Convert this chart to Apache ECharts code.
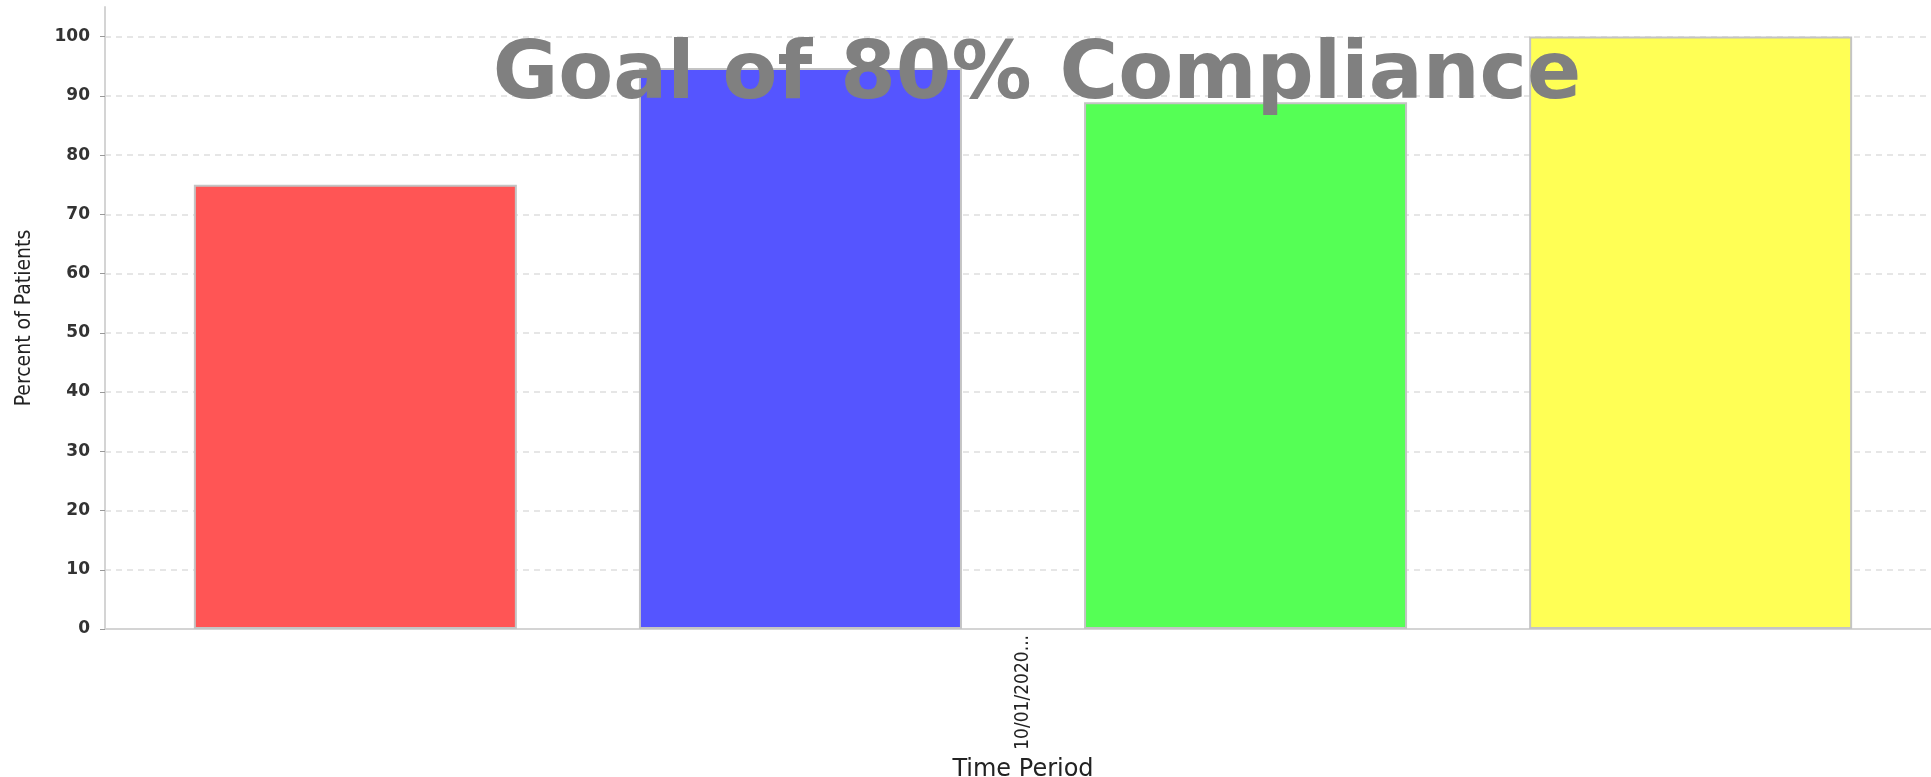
<!DOCTYPE html>
<html>
<head>
<meta charset="utf-8">
<title>Goal of 80% Compliance</title>
<script src="https://cdn.jsdelivr.net/npm/echarts@6/dist/echarts.min.js"></script>
<style>
  html, body { margin: 0; padding: 0; background: #ffffff; }
  #chart { width: 1931px; height: 777px; }
</style>
</head>
<body>
<div id="chart"></div>
<script>
// Time period shown on the category axis
const categories = ['10/01/2020...'];
// Percent of patients for each group within the period
const groupValues = [75, 94.7, 88.9, 100];
const groupColors = ['#ff5555', '#5555ff', '#55ff55', '#ffff55'];
// Value axis ticks
const yTicks = [0, 10, 20, 30, 40, 50, 60, 70, 80, 90, 100];

const titleText = 'Goal of 80% Compliance';

const chart = echarts.init(document.getElementById('chart'), null, { renderer: 'canvas' });

const series = groupValues.map((v, i) => ({
  type: 'bar',
  data: [v],
  barWidth: 323,
  barGap: '37.8%',
  itemStyle: {
    color: groupColors[i],
    borderColor: '#c4c4c4',
    borderWidth: 2
  },
  z: 2
}));

chart.setOption({
  animation: false,
  backgroundColor: '#ffffff',
  grid: {
    left: 105, right: -10, top: 7, bottom: 148,
    containLabel: false,
    outerBoundsMode: 'none'
  },
  xAxis: {
    type: 'category',
    data: categories,
    name: 'Time Period',
    nameLocation: 'middle',
    nameGap: 126,
    nameTextStyle: { fontFamily: 'DejaVu Sans', fontSize: 24, color: '#222' },
    axisLine: { show: true, lineStyle: { color: '#d4d4d4', width: 2 } },
    axisTick: { show: false },
    axisLabel: {
      rotate: 90,
      margin: 6,
      fontFamily: 'DejaVu Sans Condensed',
      fontSize: 19,
      color: '#222'
    },
    splitLine: { show: false }
  },
  yAxis: {
    type: 'value',
    min: 0,
    max: 105,
    interval: 5,
    name: 'Percent of Patients',
    nameLocation: 'middle',
    nameGap: 70,
    nameTextStyle: { fontFamily: 'DejaVu Sans Condensed', fontSize: 21, color: '#222' },
    axisLine: { show: true, lineStyle: { color: '#d4d4d4', width: 2 } },
    axisTick: { show: true, length: 5, customValues: yTicks, lineStyle: { color: '#999' } },
    axisLabel: {
      customValues: yTicks,
      margin: 15,
      fontFamily: 'DejaVu Sans',
      fontWeight: 'bold',
      fontSize: 17,
      color: '#333'
    },
    splitLine: {
      show: true,
      lineStyle: { color: '#dedede', type: [6, 5], width: 1.5 }
    }
  },
  series: series,
  graphic: [{
    type: 'text',
    z: 100,
    x: 1037,
    y: 77,
    style: {
      text: titleText,
      fontFamily: 'DejaVu Sans',
      fontWeight: 'bold',
      fontSize: 80,
      fill: '#808080',
      textAlign: 'center',
      textVerticalAlign: 'middle'
    }
  }]
});
</script>
</body>
</html>
